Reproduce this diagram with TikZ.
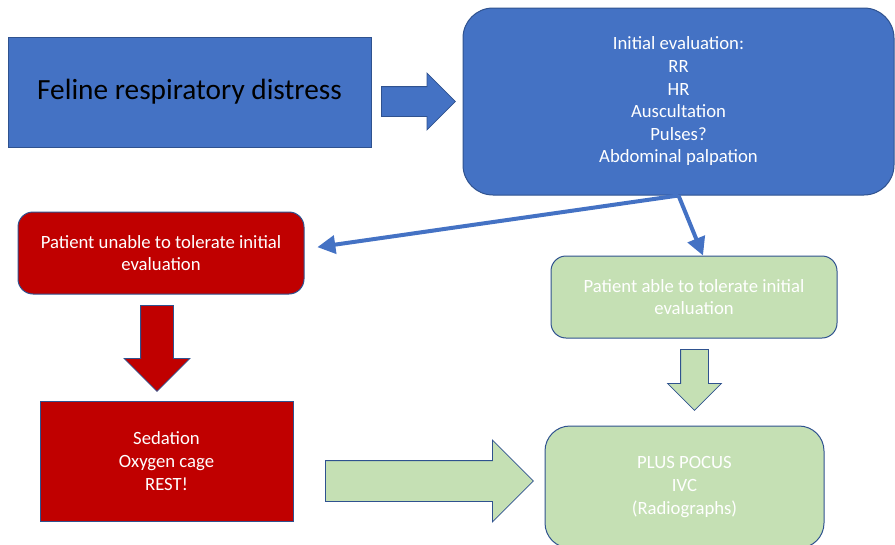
\documentclass[tikz,border=0pt]{standalone}
\usepackage{fontspec}
\setmainfont{Carlito}
\usetikzlibrary{shapes.arrows,arrows.meta}
\definecolor{boxblue}{HTML}{4472C4}
\definecolor{edgeblue}{HTML}{2F528F}
\definecolor{boxred}{HTML}{C00000}
\definecolor{boxgreen}{HTML}{C5E0B4}

\begin{document}
\begin{tikzpicture}[x=1pt,y=1pt,
  every node/.style={font=\fontsize{18.7}{22.6}\selectfont, align=center, inner sep=0pt},
  bluebox/.style={draw=edgeblue, line width=1pt, fill=boxblue, text=white},
  redbox/.style={draw=edgeblue, line width=1pt, fill=boxred, text=white},
  greenbox/.style={draw=edgeblue, line width=1pt, fill=boxgreen, text=white},
  blockarrow/.style={single arrow, draw=edgeblue, line width=0.8pt, anchor=tail},
  link/.style={draw=boxblue, line width=4pt, -{Triangle[length=18pt,width=18pt]}}]
	\useasboundingbox (0,0) rectangle (895,-544);

	% boxes
	\node[bluebox, text=black, minimum width=363, minimum height=110] (feline) at (189.5,-92)
		{\fontsize{29.3}{34}\selectfont Feline respiratory distress};
	\node[bluebox, rounded corners=30, minimum width=431, minimum height=187] (eval) at (678.5,-101.5)
		{Initial evaluation:\\RR\\HR\\Auscultation\\Pulses?\\Abdominal palpation};
	\node[redbox, rounded corners=15, minimum width=286, minimum height=82] (unable) at (161,-253)
		{Patient unable to tolerate initial\\evaluation};
	\node[redbox, minimum width=253, minimum height=120] (sedation) at (166.5,-461)
		{Sedation\\Oxygen cage\\REST!};
	\node[greenbox, rounded corners=15, minimum width=286, minimum height=82] (able) at (694,-297)
		{Patient able to tolerate initial\\evaluation};
	\node[greenbox, rounded corners=25, minimum width=279, minimum height=122] (plus) at (684.5,-487)
		{PLUS POCUS\\IVC\\(Radiographs)};

	% block arrows
	\node[blockarrow, fill=boxblue, minimum height=74, inner sep=14.5, single arrow head extend=13.5] (toeval) at (381,-101.5) {};
	\node[blockarrow, fill=boxred, shape border rotate=270, minimum height=86, inner sep=16, single arrow head extend=16.5] (tosedation) at (157,-305) {};
	\node[blockarrow, fill=boxgreen, shape border rotate=270, minimum height=61, inner sep=13.5, single arrow head extend=13] (toplus) at (694.5,-349) {};
	\node[blockarrow, fill=boxgreen, minimum height=208, inner sep=20, single arrow head extend=20.5] (rightplus) at (325,-481) {};

	% links
	\draw[link, shorten >=13pt] (eval.south) -- ([yshift=4]unable.east);
	\draw[link] (eval.south) -- ([xshift=9]able.north);
\end{tikzpicture}
\end{document}
